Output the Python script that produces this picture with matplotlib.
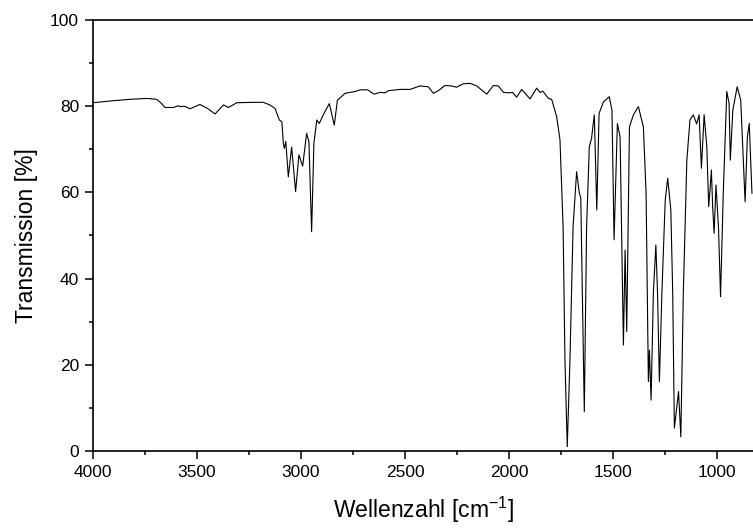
import numpy as np
import matplotlib.pyplot as plt
from matplotlib.ticker import MultipleLocator

# ----------------------------
# Data
# ----------------------------
wavenumber = [
    4000, 3918, 3822, 3742, 3694, 3670, 3654, 3614, 3590, 3582, 3560, 3534,
    3486, 3450, 3413, 3373, 3349, 3309, 3229, 3181, 3150, 3125, 3104, 3092,
    3085, 3080, 3073, 3061, 3045, 3026, 3010, 2992, 2973, 2962, 2949, 2938,
    2924, 2912, 2893, 2864, 2840, 2825, 2788, 2740, 2716, 2680, 2649, 2620,
    2596, 2580, 2524, 2476, 2428, 2388, 2364, 2340, 2308, 2276, 2252, 2220,
    2187, 2155, 2107, 2075, 2051, 2027, 1998, 1983, 1963, 1939, 1899, 1867,
    1851, 1838, 1810, 1795, 1771, 1755, 1740, 1731, 1720, 1707, 1692, 1675,
    1662, 1655, 1638, 1627, 1614, 1603, 1590, 1578, 1567, 1546, 1518, 1505,
    1495, 1479, 1466, 1450, 1442, 1434, 1421, 1402, 1378, 1354, 1341, 1330,
    1325, 1317, 1306, 1294, 1286, 1277, 1265, 1249, 1237, 1222, 1213, 1205,
    1185, 1174, 1162, 1145, 1130, 1114, 1098, 1086, 1075, 1062, 1049, 1040,
    1033, 1027, 1021, 1014, 1005, 993, 983, 970, 953, 942, 936, 924,
    903, 886, 865, 854, 845, 832,
]
transmission = [
    80.8, 81.2, 81.6, 81.8, 81.6, 80.6, 79.7, 79.7, 80.1, 79.9, 80.0, 79.4,
    80.4, 79.5, 78.2, 80.3, 79.7, 80.8, 80.9, 80.9, 80.3, 79.5, 76.8, 76.4,
    71.4, 70.2, 71.8, 63.6, 70.5, 60.2, 68.7, 66.1, 73.7, 71.8, 50.9, 71.4,
    76.8, 76.0, 78.0, 80.6, 75.6, 81.4, 83.0, 83.4, 83.8, 83.8, 82.8, 83.2,
    83.1, 83.6, 83.9, 83.9, 84.7, 84.5, 83.0, 83.6, 84.8, 84.7, 84.4, 85.2,
    85.3, 84.7, 82.8, 84.8, 84.7, 83.2, 83.1, 83.2, 82.1, 83.9, 81.7, 84.2,
    83.2, 83.5, 81.8, 81.6, 77.6, 72.2, 52.0, 21.1, 1.0, 21.1, 52.0, 64.8,
    59.9, 58.7, 9.1, 52.0, 70.6, 72.6, 78.0, 55.9, 78.3, 81.0, 82.2, 79.0,
    49.0, 76.0, 72.9, 24.6, 46.6, 27.7, 75.2, 78.0, 79.9, 75.2, 59.9, 16.1,
    23.4, 11.8, 36.7, 47.8, 36.7, 16.1, 36.7, 58.2, 63.3, 55.9, 36.7, 5.3,
    13.8, 3.3, 36.7, 67.5, 76.8, 78.0, 75.9, 78.0, 65.6, 78.0, 70.6, 56.7,
    61.0, 65.2, 56.7, 50.5, 61.7, 52.0, 35.8, 59.8, 83.4, 80.7, 67.5, 79.1,
    84.5, 81.4, 57.8, 72.9, 76.0, 59.8,
]

plt.rcParams["font.family"] = ["Liberation Sans", "DejaVu Sans"]

fig = plt.figure(figsize=(7.53, 5.29), dpi=100)
ax = fig.add_axes([93 / 753, 1 - 451 / 529, 1 - 93 / 753, (451 - 20) / 529])

ax.plot(wavenumber, transmission, color="black", linewidth=0.8)

ax.set_xlim(4000, 827)
ax.set_ylim(0, 100)
ax.xaxis.set_major_locator(MultipleLocator(500))
ax.xaxis.set_minor_locator(MultipleLocator(250))
ax.yaxis.set_major_locator(MultipleLocator(20))
ax.yaxis.set_minor_locator(MultipleLocator(10))

ax.tick_params(which="major", direction="out", length=6, width=1.1,
               labelsize=12.5, pad=4)
ax.tick_params(which="minor", direction="out", length=3, width=1.1)
ax.spines["right"].set_visible(False)
for s in ["left", "bottom", "top"]:
    ax.spines[s].set_linewidth(1.2)

ax.set_xlabel("Wellenzahl [cm$^{\\mathregular{-1}}$]", fontsize=16.5, labelpad=11)
ax.set_ylabel("Transmission [%]", fontsize=16.5, labelpad=9)

fig.savefig("out.png", dpi=100)
